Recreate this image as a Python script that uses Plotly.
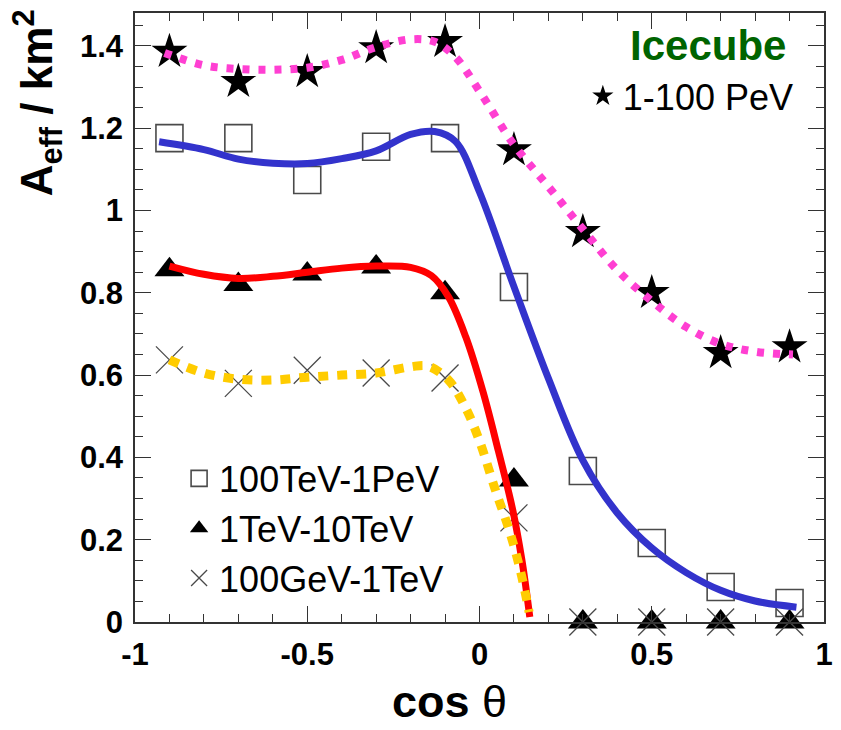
import plotly.graph_objects as go

# Zenith-angle bins (cos theta) and effective areas in km^2 per energy band
cos_bins = [-0.9, -0.7, -0.5, -0.3, -0.1, 0.1, 0.3, 0.5, 0.7, 0.9]
aeff_1_100pev = [1.386, 1.313, 1.337, 1.395, 1.41, 1.147, 0.948, 0.80, 0.654, 0.668]
aeff_100tev_1pev = [1.176, 1.176, 1.074, 1.155, 1.176, 0.814, 0.367, 0.192, 0.085, 0.046]
aeff_1tev_10tev = [0.856, 0.82, 0.846, 0.863, 0.80, 0.345, 0.0, 0.0, 0.0, 0.0]
aeff_100gev_1tev = [0.637, 0.58, 0.612, 0.605, 0.593, 0.253, 0.0, 0.0, 0.0, 0.0]

# Smooth parametrisations for each band (cos theta, A_eff)
fit_pev_x = [-0.914, -0.8, -0.7, -0.6, -0.5, -0.4, -0.3, -0.2, -0.13, -0.07,
             0.0, 0.1, 0.2, 0.3, 0.4, 0.5, 0.6, 0.7, 0.8, 0.91]
fit_pev_y = [1.383, 1.353, 1.344, 1.342, 1.347, 1.366, 1.397, 1.416, 1.410, 1.373,
             1.290, 1.160, 1.058, 0.955, 0.855, 0.780, 0.717, 0.676, 0.657, 0.650]

fit_100tev_x = [-0.93, -0.8, -0.7, -0.6, -0.5, -0.4, -0.3, -0.2, -0.13, -0.07,
                0.0, 0.1, 0.2, 0.3, 0.4, 0.5, 0.6, 0.7, 0.8, 0.92]
fit_100tev_y = [1.167, 1.148, 1.125, 1.115, 1.114, 1.126, 1.145, 1.185, 1.192, 1.168,
                1.045, 0.815, 0.592, 0.393, 0.265, 0.180, 0.120, 0.077, 0.051, 0.036]

fit_1tev_x = [-0.9, -0.8, -0.7, -0.6, -0.5, -0.4, -0.3, -0.2, -0.14, -0.09,
              -0.04, 0.01, 0.055, 0.095, 0.123, 0.146]
fit_1tev_y = [0.865, 0.845, 0.835, 0.840, 0.850, 0.860, 0.865, 0.862, 0.842, 0.790,
              0.693, 0.560, 0.415, 0.278, 0.151, 0.012]

fit_100gev_x = [-0.9, -0.8, -0.7, -0.6, -0.5, -0.4, -0.3, -0.2, -0.15, -0.09,
                -0.04, 0.0, 0.046, 0.089, 0.12, 0.144]
fit_100gev_y = [0.637, 0.605, 0.590, 0.588, 0.595, 0.600, 0.605, 0.620, 0.622, 0.588,
                0.520, 0.440, 0.321, 0.216, 0.120, 0.024]

x_tick_vals = [-1, -0.5, 0, 0.5, 1]
x_tick_text = ["-1", "-0.5", "0", "0.5", "1"]
y_tick_vals = [0, 0.2, 0.4, 0.6, 0.8, 1.0, 1.2, 1.4]
y_tick_text = ["0", "0.2", "0.4", "0.6", "0.8", "1", "1.2", "1.4"]

FONT = "Liberation Sans, Arial, sans-serif"
AXIS_COLOR = "#333333"
MARK_GRAY = "#4a4a4a"

fig = go.Figure()

# Measured points
fig.add_trace(go.Scatter(
    x=cos_bins, y=aeff_100tev_1pev, mode="markers", name="100TeV-1PeV",
    legend="legend", cliponaxis=False,
    marker=dict(symbol="square-open", size=27, color=MARK_GRAY, line=dict(width=1.6, color=MARK_GRAY)),
))
fig.add_trace(go.Scatter(
    x=cos_bins, y=aeff_1tev_10tev, mode="markers", name="1TeV-10TeV",
    legend="legend", cliponaxis=False,
    marker=dict(symbol="triangle-up", size=26, color="black"),
))
fig.add_trace(go.Scatter(
    x=cos_bins, y=aeff_100gev_1tev, mode="markers", name="100GeV-1TeV",
    legend="legend", cliponaxis=False,
    marker=dict(symbol="x-thin-open", size=27, color=MARK_GRAY, line=dict(width=1.3, color=MARK_GRAY)),
))
fig.add_trace(go.Scatter(
    x=cos_bins, y=aeff_1_100pev, mode="markers", name="1-100 PeV",
    legend="legend2", cliponaxis=False,
    marker=dict(symbol="star", size=27, color="black"),
))

# Fitted curves
fig.add_trace(go.Scatter(
    x=fit_100tev_x, y=fit_100tev_y, mode="lines", showlegend=False,
    line=dict(color="#3333cc", width=7, shape="spline", smoothing=1.0),
))
fig.add_trace(go.Scatter(
    x=fit_1tev_x, y=fit_1tev_y, mode="lines", showlegend=False,
    line=dict(color="#ff0000", width=7, shape="spline", smoothing=1.0),
))
fig.add_trace(go.Scatter(
    x=fit_100gev_x, y=fit_100gev_y, mode="lines", showlegend=False,
    line=dict(color="#ffcc00", width=9, shape="spline", smoothing=1.0, dash="10px,9px"),
))
fig.add_trace(go.Scatter(
    x=fit_pev_x, y=fit_pev_y, mode="lines", showlegend=False,
    line=dict(color="#ff3fd2", width=8, shape="spline", smoothing=1.0, dash="7px,9px"),
))

axis_common = dict(
    showline=True, linecolor=AXIS_COLOR, linewidth=1.5, mirror="allticks",
    ticks="inside", ticklen=16, tickwidth=1.3, tickcolor=AXIS_COLOR,
    showgrid=False, zeroline=False, tickmode="array",
    tickfont=dict(family=FONT, size=31, color="black", weight="bold"),
)

fig.update_xaxes(
    range=[-1, 1], tickvals=x_tick_vals, ticktext=x_tick_text, ticklabelstandoff=4,
    minor=dict(ticks="inside", ticklen=8, tickwidth=1.2, tickcolor=AXIS_COLOR, dtick=0.1, tick0=-1),
    **axis_common,
)
fig.update_yaxes(
    range=[0, 1.48], tickvals=y_tick_vals, ticktext=y_tick_text, ticklabelstandoff=4,
    minor=dict(ticks="inside", ticklen=8, tickwidth=1.2, tickcolor=AXIS_COLOR, dtick=0.05, tick0=0),
    **axis_common,
)

fig.update_layout(
    width=841, height=730,
    margin=dict(l=135, r=8, t=13, b=108),
    paper_bgcolor="white", plot_bgcolor="white",
    font=dict(family=FONT, color="black"),
    legend=dict(
        x=0.064, y=0.285, xanchor="left", yanchor="top",
        bgcolor="rgba(0,0,0,0)", font=dict(family=FONT, size=36, color="black"),
        itemwidth=30,
    ),
    legend2=dict(
        x=0.65, y=0.913, xanchor="left", yanchor="top",
        bgcolor="rgba(0,0,0,0)", font=dict(family=FONT, size=36, color="black"),
        itemwidth=30,
    ),
    annotations=[
        dict(text="<b>A<sub>eff</sub> / km<sup>2</sup></b>", textangle=-90,
             xref="paper", yref="paper", x=-0.142, y=0.852,
             xanchor="center", yanchor="middle", showarrow=False,
             font=dict(family=FONT, size=44, color="black")),
        dict(text="<b>cos</b> θ", xref="paper", yref="paper", x=0.456, y=-0.13,
             xanchor="center", yanchor="middle", showarrow=False,
             font=dict(family=FONT, size=45, color="black")),
        dict(text="<b>Icecube</b>", xref="paper", yref="paper", x=0.831, y=0.947,
             xanchor="center", yanchor="middle", showarrow=False,
             font=dict(family=FONT, size=42, color="#006400")),
    ],
)

fig.write_html("out.html")
